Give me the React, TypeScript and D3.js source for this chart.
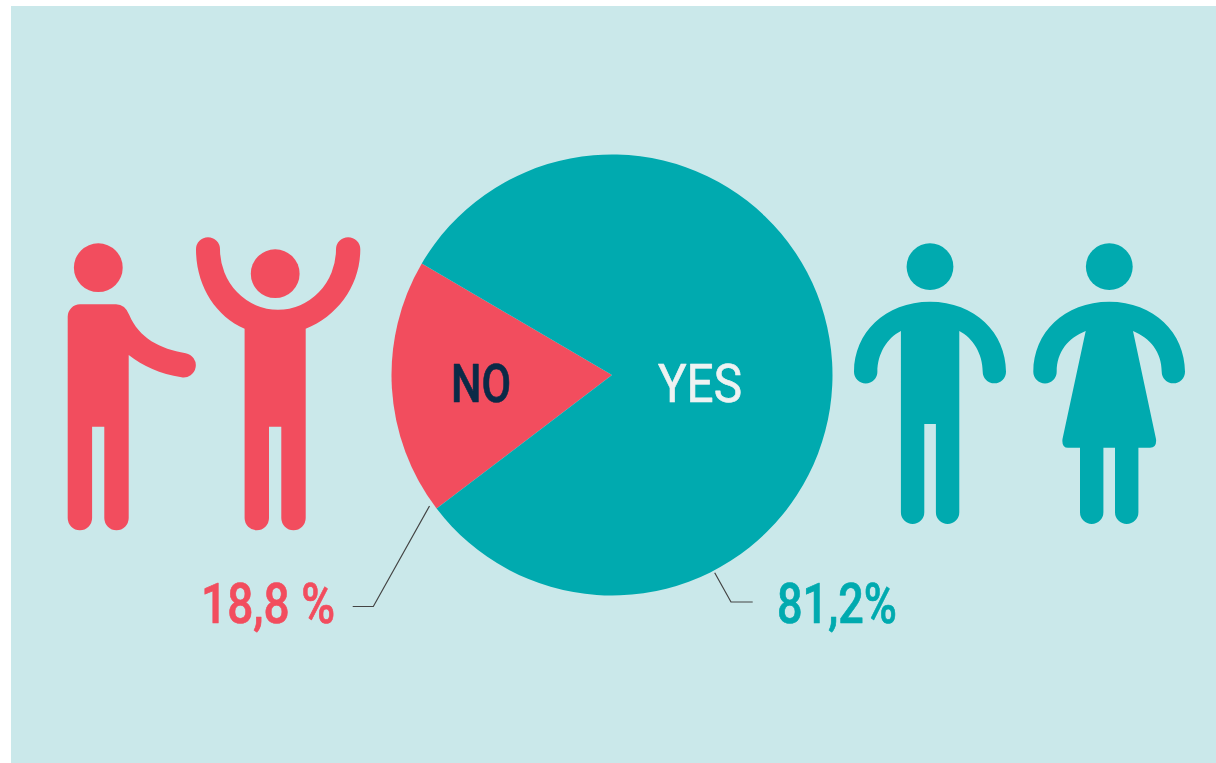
import React from "react";
import * as d3 from "d3";

const answers = ["NO", "YES"];
const shares = [18.8, 81.2];
const shareLabels = ["18,8 %", "81,2%"];

const W = 1216, H = 763;
const RED = "#f24d5e", TEAL = "#00aaaf", BG = "#cae8ea";
const FONT = "Roboto, sans-serif";
const cx = 612, cy = 375, R = 220.5;

const color = d3.scaleOrdinal<string, string>().domain(answers).range([RED, TEAL]);
const start = (232.7 * Math.PI) / 180;
const slices = d3.pie<number>().sort(null).startAngle(start).endAngle(start + 2 * Math.PI)(shares);
const arc = d3.arc<d3.PieArcDatum<number>>().innerRadius(0).outerRadius(R);

const leg = 12.2;
const PERSON_POINTING = `M80,304.3 H116 Q125,304.3 129.3,315 C139,338 160,349 185.7,353.2 A12.1,12.1 0 0 1 181.5,377.3 C160,374 143,366 128.7,355 V518.1 a${leg},${leg} 0 0 1 -24.4,0 V426.7 H92.1 V518.1 a${leg},${leg} 0 0 1 -24.4,0 V316.6 a12.3,12.3 0 0 1 12.3,-12.3 Z`;
const PERSON_CHEER = `M196,249.3 A12,12 0 0 1 220,249.3 A58,60.5 0 0 0 336,249.3 A12.1,12.1 0 0 1 360.3,249.3 C360.3,285 338,316 305.7,328.7 V518.1 a${leg},${leg} 0 0 1 -24.4,0 V426.7 H269 V518.1 a${leg},${leg} 0 0 1 -24.4,0 V328.7 C215,316 196,285 196,249.3 Z`;
const leg2 = 11.7;
const MAN = `M930,301.7 C975,301.7 1006,333 1006,371.7 a11.65,11.65 0 0 1 -23.3,0 C982.7,354 973,338 959.3,331 V512.3 a${leg2},${leg2} 0 0 1 -23.4,0 V424 H924.3 V512.3 a${leg2},${leg2} 0 0 1 -23.4,0 V331 C887,338 877.4,354 877.4,371.7 a11.7,11.7 0 0 1 -23.4,0 C854,333 885,301.7 930,301.7 Z`;
const WOMAN = `M1109.3,301.7 C1154,301.7 1185,333 1185,371.7 a11.65,11.65 0 0 1 -23.3,0 C1161.7,352 1150,338 1133,331 L1156,439 Q1157,447.7 1150,447.7 H1138.4 V512.3 a${leg2},${leg2} 0 0 1 -23.4,0 V447.7 H1103.4 V512.3 a${leg2},${leg2} 0 0 1 -23.4,0 V447.7 H1068 Q1061.5,447.7 1062.5,439 L1085.7,331 C1068,338 1056.7,352 1056.7,371.7 a11.7,11.7 0 0 1 -23.4,0 C1033.3,333 1064,301.7 1109.3,301.7 Z`;

const leaderLine = d3.line();
const leaders: [number, number][][] = [
  [[429.5, 506], [373.3, 606.5], [352.7, 606.5]],
  [[714.7, 572.7], [731, 602], [752.7, 602]],
];

function Label(p: { x: number; y: number; w: number; size: number; fill: string; weight: number; children: string }) {
  return (
    <text x={p.x} y={p.y} textLength={p.w} lengthAdjust="spacingAndGlyphs" fontFamily={FONT}
      fontSize={p.size} fontWeight={p.weight} fill={p.fill} stroke={p.fill} strokeWidth={0.7} strokeLinejoin="round">{p.children}</text>
  );
}

export default function App() {
  return (
    <svg width={W} height={H} viewBox={`0 0 ${W} ${H}`} style={{ position: "fixed", left: 0, top: 0, display: "block", background: "#fff" }}>
      <rect x={11} y={6} width={W - 11} height={H - 6} fill={BG} />
      <g transform={`translate(${cx},${cy})`}>
        {slices.map((s, i) => <path key={answers[i]} d={arc(s) as string} fill={color(answers[i])} />)}
      </g>
      <g fill={RED}>
        <circle cx={98.3} cy={267.7} r={24.4} />
        <path d={PERSON_POINTING} />
        <circle cx={275.2} cy={273.7} r={24.4} />
        <path d={PERSON_CHEER} />
      </g>
      <g fill={TEAL}>
        <circle cx={930} cy={266.7} r={23.4} />
        <path d={MAN} />
        <circle cx={1109.3} cy={266.7} r={23.4} />
        <path d={WOMAN} />
      </g>
      {leaders.map((l, i) => <path key={i} d={leaderLine(l) as string} fill="none" stroke="#444" strokeWidth={1.2} />)}
      <Label x={451} y={401.5} w={60} size={54} fill="#0b2a47" weight={500}>{answers[0]}</Label>
      <Label x={658} y={401.5} w={84} size={54} fill="#eef2f2" weight={400}>{answers[1]}</Label>
      <Label x={201} y={622.5} w={134} size={56} fill={RED} weight={500}>{shareLabels[0]}</Label>
      <Label x={777} y={622.5} w={120} size={56} fill={TEAL} weight={500}>{shareLabels[1]}</Label>
    </svg>
  );
}
